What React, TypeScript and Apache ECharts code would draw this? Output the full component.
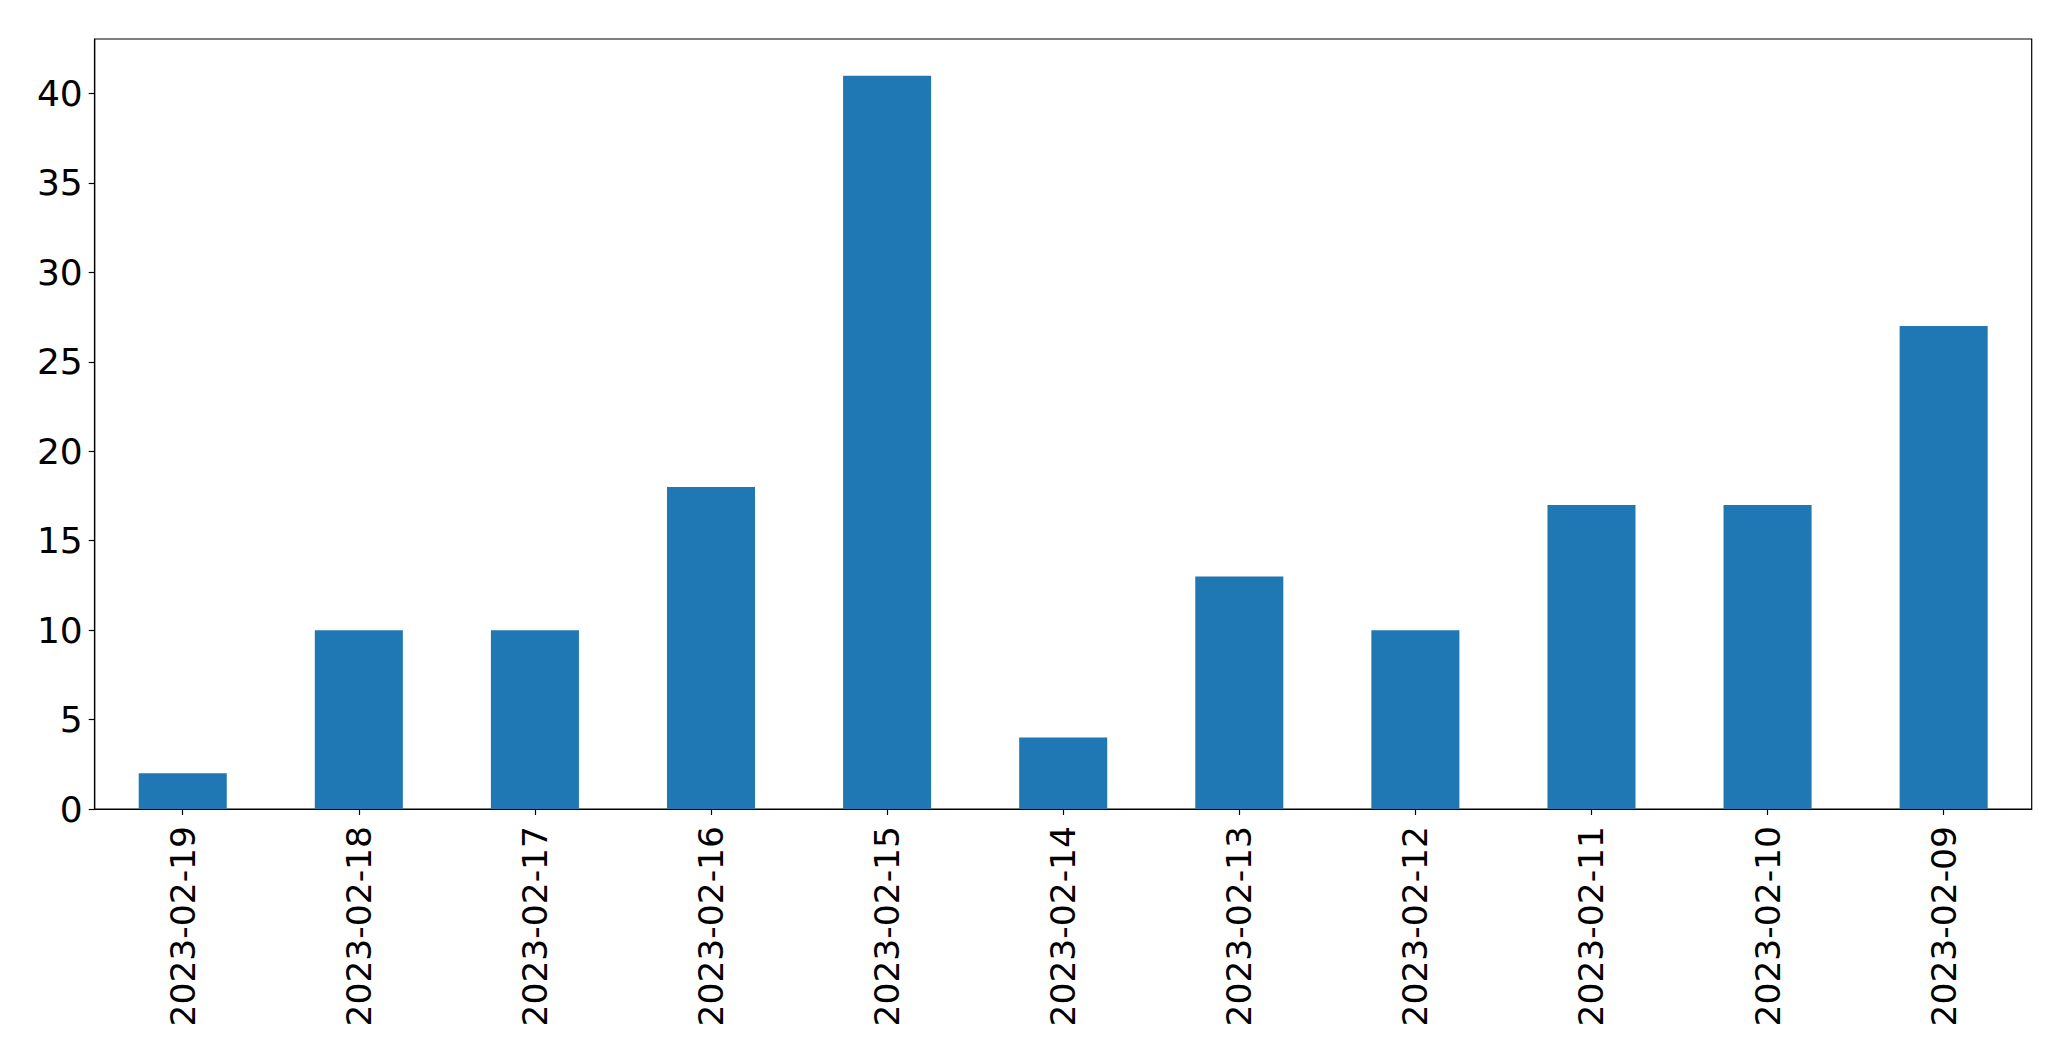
import React, { useEffect, useRef } from "react";
import * as echarts from "echarts";

const categories = [
  "2023-02-19", "2023-02-18", "2023-02-17", "2023-02-16", "2023-02-15", "2023-02-14",
  "2023-02-13", "2023-02-12", "2023-02-11", "2023-02-10", "2023-02-09",
];
const values = [2, 10, 10, 18, 41, 4, 13, 10, 17, 17, 27];
const yTicks = [0, 5, 10, 15, 20, 25, 30, 35, 40];

export default function App() {
  const ref = useRef<HTMLDivElement>(null);
  useEffect(() => {
    if (!ref.current) return;
    const chart = echarts.init(ref.current, null, { renderer: "svg" });
    const font = "'DejaVu Sans', sans-serif";
    chart.setOption({
      animation: false,
      backgroundColor: "#ffffff",
      grid: {
        left: 94.7,
        right: 39.3,
        top: 39,
        bottom: 252,
        show: true,
        borderColor: "#000000",
        borderWidth: 1.2,
        backgroundColor: "transparent",
      },
      xAxis: {
        type: "category",
        data: categories,
        boundaryGap: true,
        axisLine: { show: true, lineStyle: { color: "#000", width: 1.2 } },
        axisTick: { show: true, alignWithLabel: true, length: 6, lineStyle: { color: "#000", width: 1.2 } },
        axisLabel: {
          rotate: 90,
          margin: 17,
          color: "#000",
          fontFamily: font,
          fontSize: 34.5,
          interval: 0,
        },
        splitLine: { show: false },
      },
      yAxis: {
        type: "value",
        min: 0,
        max: 43.05,
        interval: 5,
        axisLine: { show: true, lineStyle: { color: "#000", width: 1.2 } },
        axisTick: { show: true, length: 6, lineStyle: { color: "#000", width: 1.2 }, customValues: yTicks },
        axisLabel: {
          margin: 12,
          color: "#000",
          fontFamily: font,
          fontSize: 36,
          customValues: yTicks,
        },
        splitLine: { show: false },
      },
      series: [
        {
          type: "bar",
          data: values,
          barWidth: "50%",
          itemStyle: { color: "#1f77b4" },
        },
      ],
    });
    return () => chart.dispose();
  }, []);
  return (
    <div
      ref={ref}
      style={{ position: "fixed", left: 0, top: 0, width: 2071, height: 1061, background: "#fff" }}
    />
  );
}
